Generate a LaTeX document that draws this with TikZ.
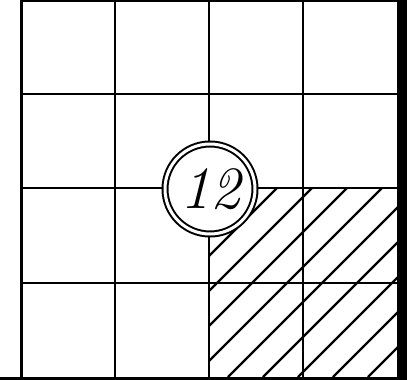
\documentclass[tikz,border=0pt]{standalone}
\usepackage{fontspec}
\begin{document}
\begin{tikzpicture}[x=1pt,y=-1pt,
  gridline/.style={line width=2pt},
  hatchline/.style={line width=2.2pt},
  ringnode/.style={circle, draw=black, double=white, line width=2pt, double distance=3pt,
    fill=white, minimum size=90pt, inner sep=0pt,
    font=\fontsize{60pt}{64pt}\selectfont\itshape}
]
\useasboundingbox (0,0) rectangle (415,380);
% hatching of the lower right block
\begin{scope}
  \clip (209,188) rectangle (397,377);
  \foreach \c in {430,465,...,745}
    \draw[hatchline] ({\c-377},377) -- ({\c-188},188);
\end{scope}
% inner grid lines
\foreach \x in {115,209,303}
  \draw[gridline] (\x,0) -- (\x,377);
\foreach \y in {94,188,283}
  \draw[gridline] (21,\y) -- (397,\y);
% outer frame
\draw[line width=2pt] (21,1) -- (397,1);
\draw[line width=3pt] (21,0) -- (21,378);
\fill (397,0) rectangle (407,380);
\fill (0,376.5) rectangle (407,380);
% label
\node[ringnode] (label) at (210,189) {12};
\end{tikzpicture}
\end{document}
